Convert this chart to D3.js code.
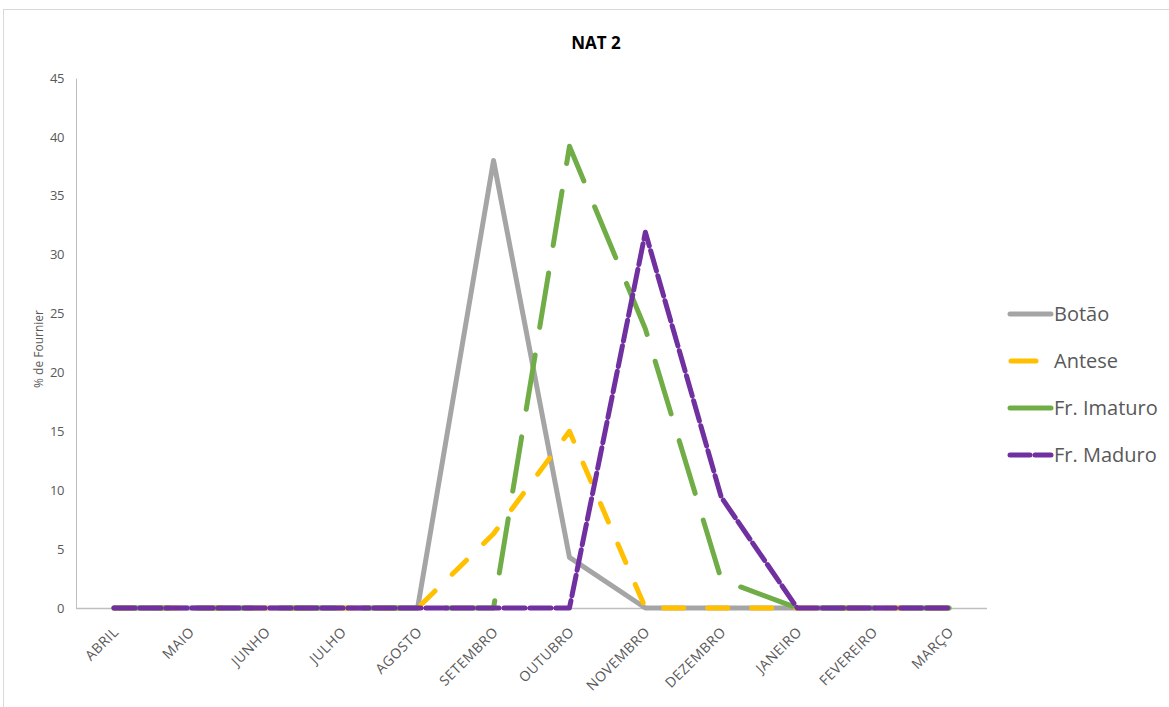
<!DOCTYPE html>
<html>
<head>
<meta charset="utf-8">
<script src="https://cdn.jsdelivr.net/npm/d3@7"></script>
<style>
  html, body { margin: 0; padding: 0; background: #fff; }
  svg { display: block; font-family: "Open Sans", "Liberation Sans", sans-serif; }
</style>
</head>
<body>
<svg id="chart" width="1169" height="707"></svg>
<script>
// Phenology of NAT 2: monthly Fournier percentage per phenophase
const months = ["ABRIL","MAIO","JUNHO","JULHO","AGOSTO","SETEMBRO","OUTUBRO","NOVEMBRO","DEZEMBRO","JANEIRO","FEVEREIRO","MARÇO"];
const botao   = [0, 0, 0, 0, 0, 38,   4.3, 0,    0,   0, 0, 0];
const antese  = [0, 0, 0, 0, 0, 6.3, 15,   0,    0,   0, 0, 0];
const imaturo = [0, 0, 0, 0, 0, 0,   39.2, 23.7, 2.4, 0, 0, 0];
const maduro  = [0, 0, 0, 0, 0, 0,   0,    31.9, 9.4, 0, 0, 0];
const yTicks  = [0, 5, 10, 15, 20, 25, 30, 35, 40, 45];

const seriesNames = ["Botão", "Antese", "Fr. Imaturo", "Fr. Maduro"];
const seriesData = [botao, antese, imaturo, maduro];
const seriesColors = ["#A5A5A5", "#FFC000", "#70AD47", "#7030A0"];
const seriesDash = [null, "20 24", "55 28", "21 5"];

const svg = d3.select("#chart");

// outer chart frame
svg.append("rect")
  .attr("x", 3.5).attr("y", 9.5)
  .attr("width", 1200).attr("height", 720)
  .attr("fill", "none").attr("stroke", "#D9D9D9").attr("stroke-width", 1);

const plot = { left: 76, right: 987, top: 78, bottom: 608 };

const x = d3.scalePoint()
  .domain(months)
  .range([plot.left, plot.right])
  .padding(0.5);

const y = d3.scaleLinear()
  .domain([0, 45])
  .range([plot.bottom, plot.top]);

// title
svg.append("text")
  .attr("x", 596).attr("y", 49)
  .attr("text-anchor", "middle")
  .attr("font-size", 17).attr("font-weight", "bold")
  .attr("fill", "#000")
  .text("NAT 2");

// y axis
const yAxis = svg.append("g")
  .attr("transform", `translate(${plot.left},0)`)
  .call(d3.axisLeft(y).tickValues(yTicks).tickSize(0).tickPadding(12));
yAxis.select(".domain").attr("stroke", "#BFBFBF").attr("stroke-width", 1);
yAxis.selectAll("text")
  .attr("font-size", 13).attr("fill", "#595959")
  .attr("letter-spacing", -0.4)
  .attr("font-family", "'Open Sans', sans-serif");

// x axis
const xAxis = svg.append("g")
  .attr("transform", `translate(0,${plot.bottom})`)
  .call(d3.axisBottom(x).tickSize(0).tickPadding(0));
xAxis.select(".domain").attr("stroke", "#BFBFBF").attr("stroke-width", 1.3)
  .attr("d", `M${plot.left},0.5H${plot.right}`);
xAxis.selectAll("text")
  .attr("font-size", 14).attr("fill", "#595959")
  .attr("letter-spacing", 0.5)
  .attr("font-family", "'Open Sans', sans-serif")
  .attr("text-anchor", "end")
  .attr("dy", null).attr("y", 0)
  .attr("transform", "translate(5,25) rotate(-45)");

// y axis title
svg.append("text")
  .attr("transform", "translate(43,349) rotate(-90)")
  .attr("text-anchor", "middle")
  .attr("font-size", 12).attr("fill", "#595959")
  .text("% de Fournier");

// series lines
const line = d3.line()
  .x((d, i) => x(months[i]))
  .y(d => y(d));

seriesData.forEach((data, k) => {
  svg.append("path")
    .datum(data)
    .attr("d", line)
    .attr("fill", "none")
    .attr("stroke", seriesColors[k])
    .attr("stroke-width", 5)
    .attr("stroke-linecap", "round")
    .attr("stroke-linejoin", "round")
    .attr("stroke-dasharray", seriesDash[k]);
});

// legend
const legendY = [314, 361, 408, 455];
const legendSample = [
  [[1010, 1051]],
  [[1011, 1036]],
  [[1010, 1051]],
  [[1010, 1030], [1035, 1051]]
];
seriesNames.forEach((name, k) => {
  const g = svg.append("g");
  legendSample[k].forEach(seg => {
    g.append("line")
      .attr("x1", seg[0]).attr("x2", seg[1])
      .attr("y1", legendY[k]).attr("y2", legendY[k])
      .attr("stroke", seriesColors[k])
      .attr("stroke-width", 5)
      .attr("stroke-linecap", "round");
  });
  g.append("text")
    .attr("x", 1054)
    .attr("y", legendY[k] + 7)
    .attr("font-size", 20).attr("fill", "#595959")
    .attr("font-family", "'Open Sans', sans-serif")
    .text(name);
});
</script>
</body>
</html>
